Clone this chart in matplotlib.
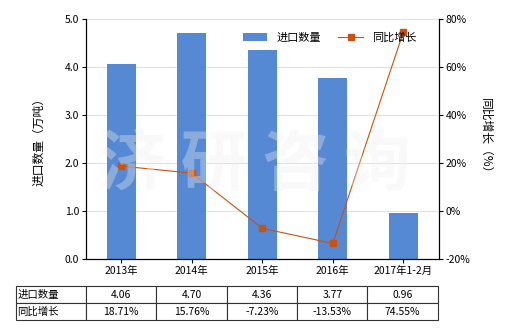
import matplotlib
matplotlib.use('Agg')
import matplotlib.pyplot as plt
import numpy as np

plt.rcParams['font.family'] = ['Noto Sans CJK SC', 'DejaVu Sans']
plt.rcParams['font.size'] = 7.5

years = ['2013年', '2014年', '2015年', '2016年', '2017年1-2月']
qty = [4.06, 4.70, 4.36, 3.77, 0.96]
growth = [18.71, 15.76, -7.23, -13.53, 74.55]
qty_labels = ['4.06', '4.70', '4.36', '3.77', '0.96']
growth_labels = ['18.71%', '15.76%', '-7.23%', '-13.53%', '74.55%']
row_names = ['进口数量', '同比增长']

bar_color = '#5589d4'
line_color = '#c9520f'

fig = plt.figure(figsize=(5.2, 3.3), dpi=100)
ax = fig.add_axes([0.1654, 0.2152, 0.678, 0.7272])
x = np.arange(len(years))

ax.bar(x, qty, width=0.41, color=bar_color, label='进口数量', zorder=2)
ax.set_ylim(0, 5)
ax.set_yticks(np.arange(0, 5.01, 1.0))
ax.set_yticklabels(['%.1f' % v for v in np.arange(0, 5.01, 1.0)])
ax.set_xlim(-0.5, len(years) - 0.5)
ax.set_xticks(x)
ax.set_xticklabels(years)
ax.grid(axis='y', color='#e0e0e0', linewidth=0.7, zorder=0)
ax.set_ylabel('进口数量（万吨）', fontsize=8.5, labelpad=14)
ax.spines['top'].set_visible(False)
ax.tick_params(axis='both', length=3, width=0.8, pad=2)

ax2 = ax.twinx()
ax2.plot(x, growth, color=line_color, linewidth=0.8, marker='s', markersize=4,
         label='同比增长', zorder=3)
ax2.set_ylim(-20, 80)
ax2.set_yticks(np.arange(-20, 81, 20))
ax2.set_yticklabels(['%d%%' % v for v in np.arange(-20, 81, 20)])
ax2.set_ylabel('同比增长（%）', fontsize=8.5, rotation=270, labelpad=16)
ax2.spines['top'].set_visible(False)
ax2.tick_params(axis='y', length=3, width=0.8, pad=2)

# watermark
fig.text(0.49, 0.50, '济 研 咨 询', fontsize=48, color='#eeeeee', alpha=0.35,
         ha='center', va='center', fontweight='bold', zorder=5)

h1, l1 = ax.get_legend_handles_labels()
h2, l2 = ax2.get_legend_handles_labels()
ax2.legend(h1 + h2, l1 + l2, loc='upper right', bbox_to_anchor=(0.965, 0.985),
           ncol=2, frameon=False, fontsize=8, handlelength=2.2,
           columnspacing=1.6)

# data table
tab_ax = fig.add_axes([0.0308, 0.0303, 0.8112, 0.103])
tab_ax.axis('off')
cells = [[row_names[0]] + qty_labels, [row_names[1]] + growth_labels]
first_w = 70 / 422
col_w = (1 - first_w) / len(years)
table = tab_ax.table(cellText=cells, bbox=[0, 0, 1, 1], cellLoc='center',
                     colWidths=[first_w] + [col_w] * len(years))
table.auto_set_font_size(False)
table.set_fontsize(7.5)
for (r, c), cell in table.get_celld().items():
    cell.set_linewidth(0.8)
    cell.set_edgecolor('#333333')
    if c == 0:
        cell.get_text().set_ha('left')
        cell.PAD = 0.02

fig.savefig('out.png', dpi=100)
